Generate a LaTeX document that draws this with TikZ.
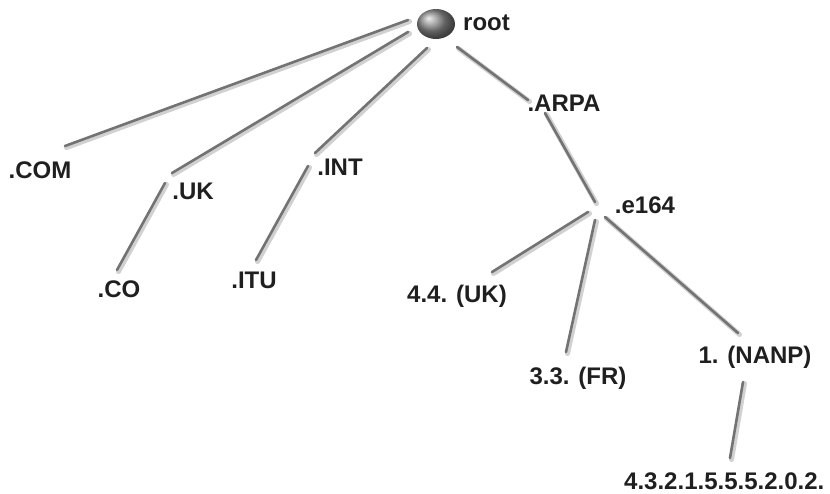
\documentclass[tikz,border=0pt]{standalone}
\usepackage{fontspec}
\setmainfont{Liberation Sans}
\begin{document}
\begin{tikzpicture}[x=1pt,y=-1pt,
  lbl/.style={font=\fontsize{24}{28}\selectfont\bfseries, text=black!88, inner sep=0pt},
  edge/.style={draw=black!55, line width=2.6pt, line cap=round},
  shadowedge/.style={draw=black!18, line width=5pt, line cap=round}]
\useasboundingbox (0,0) rectangle (830,493);
% root ball
\shade[ball color=black!45] (436,24) ellipse (19 and 15);
\node[lbl, anchor=west] (root) at (463,23) {root};
\node[lbl] (com) at (40,170) {.COM};
\node[lbl] (uk) at (193,191) {.UK};
\node[lbl] (int) at (340,167) {.INT};
\node[lbl] (arpa) at (564,103) {.ARPA};
\node[lbl] (co) at (119,289) {.CO};
\node[lbl] (itu) at (254,280) {.ITU};
\node[lbl] (e164) at (645,205) {.e164};
\node[lbl] (ukk) at (457,296) {4.4. (UK)};
\node[lbl] (fr) at (578,378) {3.3. (FR)};
\node[lbl] (nanp) at (755,357) {1. (NANP)};
\node[lbl, anchor=west] (num) at (624,481) {4.3.2.1.5.5.5.2.0.2.};
% connector end points
\coordinate (r1) at (408,20);
\coordinate (r2) at (408,32);
\coordinate (r3) at (427,48);
\coordinate (r4) at (457,47);
\coordinate (c1) at (65,146);
\coordinate (u1) at (172,173);
\coordinate (u2) at (165,183);
\coordinate (u3) at (117,270);
\coordinate (i1) at (315,153);
\coordinate (i2) at (308,166);
\coordinate (i3) at (256,260);
\coordinate (a1) at (528,100);
\coordinate (a2) at (545,113);
\coordinate (e1) at (595,202);
\coordinate (e2) at (588,212);
\coordinate (e3) at (595,220);
\coordinate (e4) at (605,217);
\coordinate (k1) at (492,272);
\coordinate (f1) at (566,352);
\coordinate (n1) at (738,333);
\coordinate (n2) at (743,382);
\coordinate (n3) at (730,458);
\foreach \a/\b in {r1/c1,r2/u1,r3/i1,r4/a1,u2/u3,i2/i3,a2/e1,e2/k1,e3/f1,e4/n1,n2/n3}{
  \draw[shadowedge] ([shift={(1.5,1.5)}]\a) -- ([shift={(1.5,1.5)}]\b);
}
\foreach \a/\b in {r1/c1,r2/u1,r3/i1,r4/a1,u2/u3,i2/i3,a2/e1,e2/k1,e3/f1,e4/n1,n2/n3}{
  \draw[edge] (\a) -- (\b);
}
\end{tikzpicture}
\end{document}
